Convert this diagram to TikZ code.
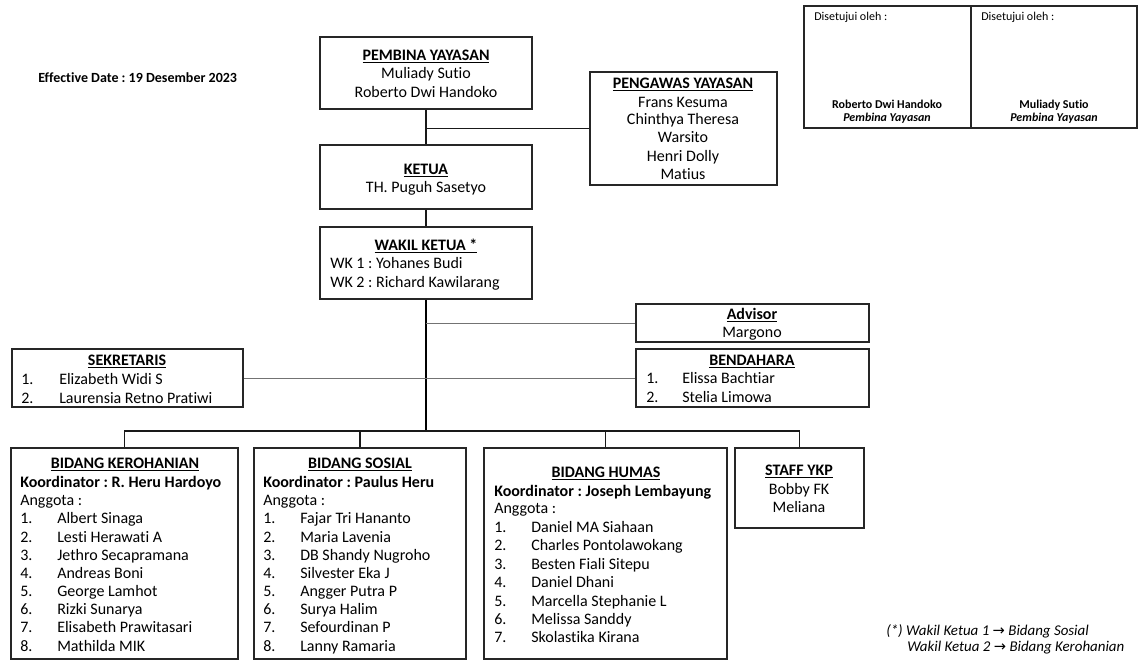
\documentclass[tikz,border=0pt]{standalone}
\usepackage{fontspec}
\setmainfont{Carlito}[Ligatures=NoCommon]
\newfontfamily\djv{DejaVu Sans}
\usetikzlibrary{fit}
\frenchspacing
\newcounter{tn}
\newcommand\lbl[3][tx]{\stepcounter{tn}\node[#1] (txt\the\value{tn}) at (#2) {#3};}
\newcommand\li[5]{\lbl[tl]{#1,#3}{#4.}\lbl[tl]{#2,#3}{#5}}
\tikzset{
 box/.style={draw=black!85, line width=0.9pt, inner sep=0pt, fit={#1}},
 tx/.style={inner sep=0pt, anchor=mid, yshift=-1.5pt, font=\fontsize{12}{14}\selectfont},
 tl/.style={tx, anchor=mid west},
 sm/.style={inner sep=0pt, anchor=mid, yshift=-1pt, font=\fontsize{9}{11}\selectfont},
 sml/.style={sm, anchor=mid west},
 fn/.style={inner sep=0pt, anchor=mid west, yshift=-1pt, font=\fontsize{11.2}{13}\selectfont\itshape},
 link/.style={draw=black!90, line width=0.9pt},
 mainlink/.style={draw=black, line width=1.4pt},
 graylink/.style={draw=black!55, line width=0.7pt},
}
\begin{document}
\begin{tikzpicture}[x=0.75pt,y=-0.75pt]
\useasboundingbox (0,0) rectangle (1148,668);
% boxes
\node[box={(320,37)(532,109)}] (pembina) {};
\node[box={(590,72)(777,185)}] (pengawas) {};
\node[box={(320,145)(532,209)}] (ketua) {};
\node[box={(320,227)(532,299)}] (wakil) {};
\node[box={(636,304)(869,342)}] (advisor) {};
\node[box={(12,349)(243,407)}] (sekretaris) {};
\node[box={(636,349)(869,407)}] (bendahara) {};
\node[box={(11,448)(238,659)}] (kero) {};
\node[box={(254,448)(466,659)}] (sosial) {};
\node[box={(484,448)(727,659)}] (humas) {};
\node[box={(735,448)(864,528)}] (staff) {};
\node[box={(804,6)(971,128)}] (sig1) {};
\node[box={(971,6)(1137,128)}] (sig2) {};
% connectors
\coordinate (j1) at (426,128.5);
\coordinate (bus) at (426,431);
\draw[link] (pembina.south) -- (ketua.north);
\draw[link] (j1) -- (pengawas.west);
\draw[link] (ketua.south) -- (wakil.north);
\draw[mainlink] (wakil.south) -- (bus);
\draw[graylink] (wakil.south |- advisor.west) -- (advisor.west);
\draw[graylink] (sekretaris.east) -- (bendahara.west);
\draw[link] (kero.north) -- (kero.north |- bus) -- (staff.north |- bus) -- (staff.north);
\draw[link] (sosial.north) -- (sosial.north |- bus);
\draw[link] (humas.north) -- (humas.north |- bus);
% texts
\lbl[tl]{38,77}{\fontsize{10.5}{12}\selectfont\bfseries Effective Date : 19 Desember 2023}
\lbl{426,55}{\bfseries\underline{PEMBINA YAYASAN}}
\lbl{426,73}{Muliady Sutio}
\lbl{426,92}{Roberto Dwi Handoko}
\lbl{683,83}{\bfseries\underline{PENGAWAS YAYASAN}}
\lbl{683,102}{Frans Kesuma}
\lbl{683,119}{Chinthya Theresa}
\lbl{683,137}{Warsito}
\lbl{683,156}{Henri Dolly}
\lbl{683,174}{Matius}
\lbl{426,169}{\bfseries\underline{KETUA}}
\lbl{426,187}{TH. Puguh Sasetyo}
\lbl{426,245}{\bfseries\underline{WAKIL KETUA *}}
\lbl[tl]{330,263}{WK 1 : Yohanes Budi}
\lbl[tl]{330,282}{WK 2 : Richard Kawilarang}
\lbl{752,314}{\bfseries\underline{Advisor}}
\lbl{752,332}{Margono}
\lbl{127,360}{\bfseries\underline{SEKRETARIS}}
\li{21}{59}{379}{1}{Elizabeth Widi S}
\li{21}{59}{398}{2}{Laurensia Retno Pratiwi}
\lbl{752,360}{\bfseries\underline{BENDAHARA}}
\li{646}{682}{378}{1}{Elissa Bachtiar}
\li{646}{682}{397}{2}{Stelia Limowa}
% kerohanian
\lbl{125,463}{\bfseries\underline{BIDANG KEROHANIAN}}
\lbl[tl]{20,482}{\bfseries Koordinator : R. Heru Hardoyo}
\lbl[tl]{20,500}{Anggota :}
\li{20}{57}{518}{1}{Albert Sinaga}
\li{20}{57}{537}{2}{Lesti Herawati A}
\li{20}{57}{555}{3}{Jethro Secapramana}
\li{20}{57}{573}{4}{Andreas Boni}
\li{20}{57}{591}{5}{George Lamhot}
\li{20}{57}{609}{6}{Rizki Sunarya}
\li{20}{57}{627}{7}{Elisabeth Prawitasari}
\li{20}{57}{646}{8}{Mathilda MIK}
% sosial
\lbl{360,463}{\bfseries\underline{BIDANG SOSIAL}}
\lbl[tl]{263,482}{\bfseries Koordinator : Paulus Heru}
\lbl[tl]{263,500}{Anggota :}
\li{263}{300}{518}{1}{Fajar Tri Hananto}
\li{263}{300}{537}{2}{Maria Lavenia}
\li{263}{300}{555}{3}{DB Shandy Nugroho}
\li{263}{300}{573}{4}{Silvester Eka J}
\li{263}{300}{591}{5}{Angger Putra P}
\li{263}{300}{609}{6}{Surya Halim}
\li{263}{300}{627}{7}{Sefourdinan P}
\li{263}{300}{646}{8}{Lanny Ramaria}
% humas
\lbl{606,472}{\bfseries\underline{BIDANG HUMAS}}
\lbl[tl]{494,491}{\bfseries Koordinator : Joseph Lembayung}
\lbl[tl]{494,508}{Anggota :}
\li{494}{531}{527}{1}{Daniel MA Siahaan}
\li{494}{531}{545}{2}{Charles Pontolawokang}
\li{494}{531}{564}{3}{Besten Fiali Sitepu}
\li{494}{531}{582}{4}{Daniel Dhani}
\li{494}{531}{601}{5}{Marcella Stephanie L}
\li{494}{531}{619}{6}{Melissa Sanddy}
\li{494}{531}{637}{7}{Skolastika Kirana}
% staff
\lbl{799,470}{\bfseries\underline{STAFF YKP}}
\lbl{799,489}{Bobby FK}
\lbl{799,507}{Meliana}
% signatures
\lbl[sml]{814,16}{Disetujui oleh :}
\lbl[sml]{981,16}{Disetujui oleh :}
\lbl[sm]{887,104}{\bfseries Roberto Dwi Handoko}
\lbl[sm]{887,117}{\bfseries\itshape Pembina Yayasan}
\lbl[sm]{1054,104}{\bfseries Muliady Sutio}
\lbl[sm]{1054,117}{\bfseries\itshape Pembina Yayasan}
% footnote
\lbl[fn]{886,631}{(*) Wakil Ketua 1 {\upshape\djv\fontsize{11}{13}\selectfont →} Bidang Sosial}
\lbl[fn]{907,647}{Wakil Ketua 2 {\upshape\djv\fontsize{11}{13}\selectfont →} Bidang Kerohanian}
\end{tikzpicture}
\end{document}
